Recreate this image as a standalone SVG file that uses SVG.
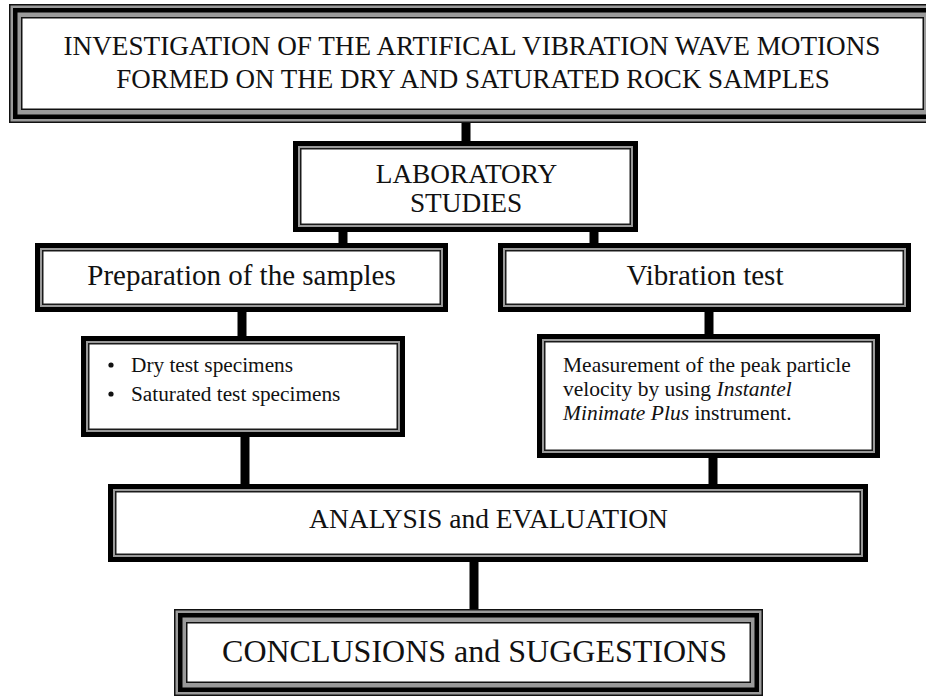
<svg xmlns="http://www.w3.org/2000/svg" width="926" height="697" viewBox="0 0 926 697">
<style>
  text { font-family: "Liberation Serif", "Times New Roman", serif; fill: #111; }
  .t27 { font-size: 27.3px; }
  .t29 { font-size: 29px; }
  .t21 { font-size: 21.5px; }
  .mid { text-anchor: middle; }
  .tri-out { fill: #9a9a9a; stroke: #111; stroke-width: 1.5; }
  .tri-thick { fill: none; stroke: #000; stroke-width: 4.5; }
  .tri-in { fill: #fff; stroke: #111; stroke-width: 1.5; }
  .dbl-thick { fill: #9a9a9a; stroke: #000; stroke-width: 5; }
  .dbl-in { fill: #fff; stroke: #1a1a1a; stroke-width: 1.5; }
  .conn { stroke: #000; stroke-width: 9; fill: none; }
</style>
<rect width="926" height="697" fill="#fff"/>

<g id="connectors">
  <line class="conn" x1="466" y1="120" x2="466" y2="143"/>
  <line class="conn" x1="343" y1="230" x2="343" y2="245"/>
  <line class="conn" x1="594" y1="230" x2="594" y2="245"/>
  <line class="conn" x1="242" y1="310" x2="242" y2="338"/>
  <line class="conn" x1="709" y1="310" x2="709" y2="336"/>
  <line class="conn" x1="245" y1="435" x2="245" y2="486"/>
  <line class="conn" x1="713" y1="456" x2="713" y2="486"/>
  <line class="conn" x1="474" y1="560" x2="474" y2="611"/>
</g>

<g id="node-investigation">
  <rect class="tri-out" x="9.75" y="4.75" width="925.5" height="117.5"/>
  <rect class="tri-thick" x="15.25" y="10.25" width="914.5" height="106.5"/>
  <rect class="tri-in" x="21.75" y="17.75" width="901.5" height="91.5"/>
  <text class="t27 mid" x="472" y="55" style="font-size:27.2px">INVESTIGATION OF THE ARTIFICAL VIBRATION WAVE MOTIONS</text>
  <text class="t27 mid" x="473" y="88" style="font-size:27px">FORMED ON THE DRY AND SATURATED ROCK SAMPLES</text>
</g>

<g id="node-laboratory">
  <rect class="dbl-thick" x="295.5" y="143.5" width="340" height="86"/>
  <rect class="dbl-in" x="300.75" y="148.75" width="329.5" height="75.5"/>
  <text class="t27 mid" x="466.5" y="183">LABORATORY</text>
  <text class="t27 mid" x="466" y="212">STUDIES</text>
</g>

<g id="node-preparation">
  <rect class="dbl-thick" x="37.5" y="245.5" width="408" height="64"/>
  <rect class="dbl-in" x="42.75" y="250.75" width="397.5" height="53.5"/>
  <text class="t29 mid" x="241.5" y="285">Preparation of the samples</text>
</g>

<g id="node-vibration">
  <rect class="dbl-thick" x="500.5" y="245.5" width="408" height="64"/>
  <rect class="dbl-in" x="505.75" y="250.75" width="397.5" height="53.5"/>
  <text class="t29 mid" x="705" y="285">Vibration test</text>
</g>

<g id="node-specimens">
  <rect class="dbl-thick" x="83.5" y="338.5" width="319" height="96"/>
  <rect class="dbl-in" x="88.75" y="343.75" width="308.5" height="85.5"/>
  <circle cx="111" cy="365" r="2.6" fill="#111"/>
  <circle cx="111" cy="394" r="2.6" fill="#111"/>
  <text x="131" y="372" style="font-size:21.3px">Dry test specimens</text>
  <text x="131" y="401" style="font-size:21.3px">Saturated test specimens</text>
</g>

<g id="node-measurement">
  <rect class="dbl-thick" x="539.5" y="336.5" width="338" height="119"/>
  <rect class="dbl-in" x="544.75" y="341.75" width="327.5" height="108.5"/>
  <text class="t21" x="563" y="372">Measurement of the peak particle</text>
  <text class="t21" x="563" y="396">velocity by using <tspan font-style="italic">Instantel</tspan></text>
  <text class="t21" x="563" y="420"><tspan font-style="italic">Minimate Plus</tspan> instrument.</text>
</g>

<g id="node-analysis">
  <rect class="dbl-thick" x="110.5" y="486.5" width="755" height="73"/>
  <rect class="dbl-in" x="115.75" y="491.75" width="744.5" height="62.5"/>
  <text class="t27 mid" x="488.5" y="528" style="font-size:27.5px">ANALYSIS and EVALUATION</text>
</g>

<g id="node-conclusions">
  <rect class="tri-out" x="174.75" y="609.75" width="587.5" height="85.5"/>
  <rect class="tri-thick" x="180.25" y="615.25" width="576.5" height="74.5"/>
  <rect class="tri-in" x="186.75" y="622.75" width="563.5" height="59.5"/>
  <text class="mid" x="474.5" y="662" style="font-size:32px">CONCLUSIONS and SUGGESTIONS</text>
</g>
</svg>
